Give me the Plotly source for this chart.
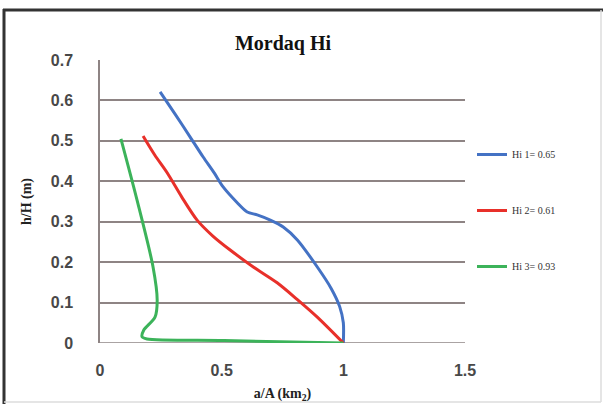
import plotly.graph_objects as go

# Hi 1 = 0.65 (blue)
hi1_x = [0.247, 0.310, 0.370, 0.424, 0.470, 0.506, 0.564, 0.605, 0.646, 0.700, 0.753, 0.811, 0.893, 0.950, 0.985, 1.0, 1.0]
hi1_y = [0.621, 0.565, 0.510, 0.460, 0.420, 0.386, 0.347, 0.324, 0.317, 0.304, 0.287, 0.255, 0.188, 0.135, 0.090, 0.050, 0.0]
# Hi 2 = 0.61 (red)
hi2_x = [0.177, 0.225, 0.276, 0.335, 0.399, 0.465, 0.535, 0.630, 0.728, 0.810, 0.893, 1.0]
hi2_y = [0.512, 0.465, 0.421, 0.362, 0.304, 0.264, 0.230, 0.188, 0.149, 0.108, 0.064, 0.0]
# Hi 3 = 0.93 (green)
hi3_x = [0.086, 0.152, 0.218, 0.235, 0.226, 0.180, 0.173, 0.193, 0.51, 1.0]
hi3_y = [0.505, 0.354, 0.188, 0.106, 0.064, 0.032, 0.015, 0.010, 0.006, 0.0]

names = ["Hi 1= 0.65", "Hi 2= 0.61", "Hi 3= 0.93"]
colors = ["#4472c4", "#e8302a", "#3cb35a"]

x_ticks = [0, 0.5, 1, 1.5]
y_ticks = [0, 0.1, 0.2, 0.3, 0.4, 0.5, 0.6, 0.7]

fig = go.Figure()
for i, (xs, ys, n, c) in enumerate(zip([hi1_x, hi2_x, hi3_x], [hi1_y, hi2_y, hi3_y], names, colors)):
    fig.add_trace(go.Scatter(x=xs, y=ys, name=n, mode="lines", legendgroup=f"g{i}",
                             line=dict(color=c, width=3, shape="spline", smoothing=0.8)))

W, H = 603, 404
L, R, T, B = 100, 138, 60, 61
PW, PH = W - L - R, H - T - B

def px(xp):
    return (xp - L) / PW

def py(yp):
    return (H - B - yp) / PH

fig.update_layout(
    width=W, height=H,
    paper_bgcolor="white", plot_bgcolor="white",
    margin=dict(l=L, r=R, t=T, b=B, autoexpand=False),
    title=dict(text="<b>Mordaq Hi</b>", x=283/W, xanchor="center", y=1-43/H, yanchor="middle",
               font=dict(family="Liberation Serif", size=20, color="#111")),
    xaxis=dict(range=[0, 1.5], tickvals=x_ticks, ticktext=["0", "0.5", "1", "1.5"],
               showgrid=False, zeroline=False, showline=False, automargin=False,
               ticklabelstandoff=16,
               tickfont=dict(family="Liberation Sans", size=16, color="#484848", weight="bold"),
               title=dict(text="<b>a/A (km<sub>2</sub>)</b>", standoff=10,
                          font=dict(family="Liberation Serif", size=14, color="#222"))),
    yaxis=dict(range=[0, 0.7], tickvals=y_ticks, ticktext=["0", "0.1", "0.2", "0.3", "0.4", "0.5", "0.6", "0.7"],
               showgrid=True, gridcolor="#8e8484", gridwidth=1.5, zeroline=False,
               showline=True, linecolor="#8e8484", linewidth=1.5, automargin=False,
               ticks="", ticklen=0, ticklabelstandoff=22,
               tickfont=dict(family="Liberation Sans", size=16, color="#484848", weight="bold"),
               title=dict(text="<b>h/H (m)</b>", standoff=16,
                          font=dict(family="Liberation Serif", size=14, color="#222"))),
    legend=dict(x=px(472), xanchor="left", y=py(140), yanchor="top",
                font=dict(family="Liberation Serif", size=10, color="#333"),
                tracegroupgap=37, bgcolor="rgba(0,0,0,0)"),
    showlegend=True,
)
# x-axis baseline (gridline at 0)
fig.add_shape(type="line", xref="x", yref="y", x0=0, x1=1.5, y0=0, y1=0,
              line=dict(color="#8e8484", width=1.5), layer="below")
# outer frame: dark top and left, light right and bottom
fig.add_shape(type="line", xref="paper", yref="paper", x0=px(3), x1=px(603), y0=py(10), y1=py(10),
              line=dict(color="#333", width=3))
fig.add_shape(type="line", xref="paper", yref="paper", x0=px(4), x1=px(4), y0=py(9), y1=py(404),
              line=dict(color="#333", width=3))
fig.add_shape(type="line", xref="paper", yref="paper", x0=px(601), x1=px(601), y0=py(10), y1=py(402),
              line=dict(color="#ddd", width=1.5))
fig.add_shape(type="line", xref="paper", yref="paper", x0=px(4), x1=px(601), y0=py(402), y1=py(402),
              line=dict(color="#ddd", width=1.5))
fig.write_html("out.html", config={"displayModeBar": False},
               post_script="document.body.style.margin='0';")
